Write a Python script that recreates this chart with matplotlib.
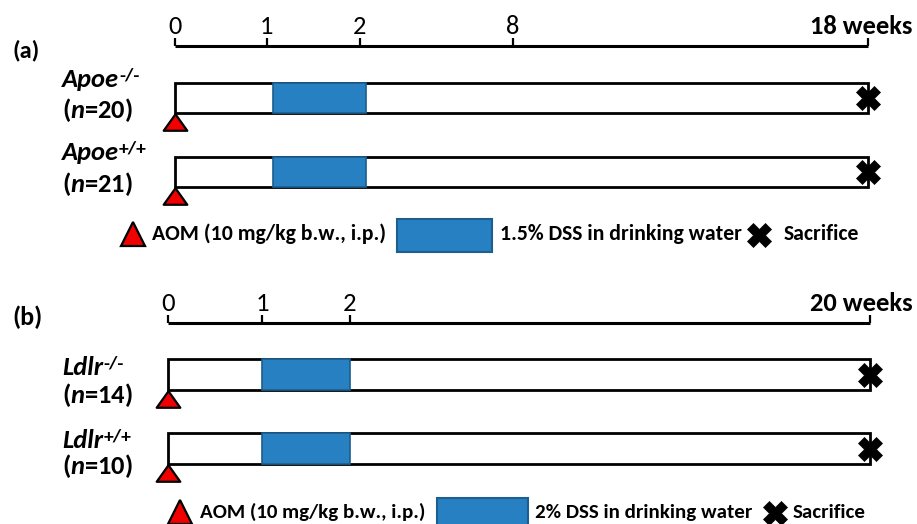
import numpy as np
import matplotlib
matplotlib.use("Agg")
import matplotlib.pyplot as plt
from matplotlib.transforms import Affine2D, ScaledTranslation
from matplotlib.patches import Rectangle
from matplotlib.lines import Line2D
from matplotlib.path import Path
from matplotlib.text import Annotation

# ---------------- data ----------------
# Panel (a): Apoe study, 18 weeks
a_tick_weeks = [0, 1, 2, 8, 18]
a_tick_labels = ["0", "1", "2", "8", "18 weeks"]
a_groups = ["Apoe", "Apoe"]
a_genotypes = ["-/-", "+/+"]
a_n = [20, 21]
a_aom_week = 0
a_dss_start = 1
a_dss_end = 2
a_end_week = 18
a_dss_label = "1.5% DSS in drinking water"

# Panel (b): Ldlr study, 20 weeks
b_tick_weeks = [0, 1, 2, 20]
b_tick_labels = ["0", "1", "2", "20 weeks"]
b_groups = ["Ldlr", "Ldlr"]
b_genotypes = ["-/-", "+/+"]
b_n = [14, 10]
b_aom_week = 0
b_dss_start = 1
b_dss_end = 2
b_end_week = 20
b_dss_label = "2% DSS in drinking water"

aom_label = "AOM (10 mg/kg b.w., i.p.)"
sac_label = "Sacrifice"

# schematic (broken) time scale: pixel position of each tick week
a_scale_px = [175, 267, 360, 513, 868]
b_scale_px = [168, 262, 350, 870]

# ---------------- style ----------------
W, H = 917, 524
FONT = "Carlito"
RED = "#f00000"
BLUE = "#2680c2"
BLUE_EDGE = "#1d5e8e"
plt.rcParams["font.family"] = [FONT, "DejaVu Sans"]
plt.rcParams["mathtext.fontset"] = "custom"
plt.rcParams["mathtext.it"] = "Carlito:italic:bold"
plt.rcParams["mathtext.rm"] = "Carlito:bold"
plt.rcParams["mathtext.bf"] = "Carlito:bold"

fig = plt.figure(figsize=(W / 100, H / 100), dpi=100)
pix = Affine2D().scale(1 / W, -1 / H).translate(0, 1) + fig.transFigure

tri_path = Path([(-1, -0.7), (1, -0.7), (0, 0.7), (-1, -0.7)],
                [Path.MOVETO, Path.LINETO, Path.LINETO, Path.CLOSEPOLY])

fit_groups = {}   # name -> (list of texts, reference text, target width px)


def add_fit(key, t, ref=False, target=None):
    lst, r, tw = fit_groups.get(key, ([], None, None))
    lst.append(t)
    if ref:
        r, tw = t, target
    fit_groups[key] = (lst, r, tw)


axes = []


def panel(tick_weeks, tick_labels, scale_px, groups, genotypes, ns,
          aom_w, dss_s, dss_e, end_w, axis_y, row_tops, row_h, dss_shift_px,
          panel_label, label_y, label_w, name_baselines, n_baselines,
          leg_y, leg_x, leg_box, leg_w, dss_label, tick_w, last_shift, key):
    x0, x1 = scale_px[0], scale_px[-1]
    ax = fig.add_axes([x0 / W, 0, (x1 - x0) / W, 1])
    ax.patch.set_visible(False)
    fwd = lambda w: np.interp(w, tick_weeks, scale_px)
    inv = lambda p: np.interp(p, scale_px, tick_weeks)
    ax.set_xscale("function", functions=(fwd, inv))
    ax.set_xlim(tick_weeks[0], tick_weeks[-1])
    ax.set_ylim(H, 0)

    for s in ["left", "right", "bottom"]:
        ax.spines[s].set_visible(False)
    ax.spines["top"].set_position(("data", axis_y))
    ax.spines["top"].set_linewidth(2.2)
    ax.spines["top"].set_capstyle("butt")
    ax.yaxis.set_visible(False)
    ax.xaxis.tick_top()
    ax.set_xticks(tick_weeks)
    ax.set_xticklabels(tick_labels)
    ax.xaxis.set_minor_locator(matplotlib.ticker.NullLocator())
    ax.tick_params(axis="x", which="major", direction="out", length=5.5,
                   width=1.6, pad=0.5, labelsize=18, colors="black")
    ax.get_xticklabels()[-1].set_fontweight("bold")
    axes.append((ax, tick_w, last_shift))

    shift = ScaledTranslation(dss_shift_px / 100, 0, fig.dpi_scale_trans)
    for i in range(len(groups)):
        yc = row_tops[i] + row_h / 2
        ax.barh(yc, end_w - aom_w, left=aom_w, height=row_h,
                facecolor="white", edgecolor="black", linewidth=2.0,
                clip_on=False, zorder=2)
        bars = ax.barh(yc, dss_e - dss_s, left=dss_s, height=row_h,
                       facecolor=BLUE, edgecolor=BLUE_EDGE, linewidth=1.2,
                       clip_on=False, zorder=3)
        for b in bars:
            b.set_transform(ax.transData + shift)
        ax.plot([aom_w], [row_tops[i] + row_h + 9], marker=tri_path,
                markersize=17, markerfacecolor=RED, markeredgecolor="black",
                markeredgewidth=1.6, linestyle="none", clip_on=False, zorder=5)
        ax.plot([end_w], [yc], marker="X", markersize=17, color="black",
                markeredgewidth=0.5, linestyle="none", clip_on=False, zorder=5)

        t = fig.text(62, name_baselines[i], groups[i], transform=pix,
                     fontsize=19, fontweight="bold", fontstyle="italic",
                     va="baseline", ha="left")
        add_fit("row", t)
        sup = Annotation(genotypes[i], xy=(1, 1), xycoords=t, xytext=(0, 0.5),
                         textcoords="offset points", va="top", ha="left",
                         fontsize=14, fontweight="bold")
        fig.add_artist(sup)
        tn = fig.text(62, n_baselines[i], "($n$=%d)" % ns[i], transform=pix,
                      fontsize=19, fontweight="bold", va="baseline", ha="left")
        add_fit("row", tn, ref=(key == "a" and i == 0), target=71)

    tp = fig.text(12, label_y, panel_label, transform=pix, fontsize=18,
                  fontweight="bold", va="center", ha="left")
    add_fit("panel_" + key, tp, ref=True, target=label_w)

    # legend row
    tx, bx, sx = leg_x
    fig.add_artist(Line2D([leg_box[4]], [leg_y - 6], transform=pix,
                          marker="^", markersize=17, markerfacecolor=RED,
                          markeredgecolor="black", markeredgewidth=1.6,
                          linestyle="none"))
    t1 = fig.text(tx, leg_y, aom_label, transform=pix, fontsize=16,
                  fontweight="bold", va="baseline", ha="left")
    fig.add_artist(Rectangle((leg_box[0], leg_box[1]), leg_box[2], leg_box[3],
                             transform=pix, facecolor=BLUE,
                             edgecolor=BLUE_EDGE, linewidth=1.5))
    t2 = fig.text(bx, leg_y, dss_label, transform=pix, fontsize=16,
                  fontweight="bold", va="baseline", ha="left")
    fig.add_artist(Line2D([leg_box[5]], [leg_y - 5], transform=pix,
                          marker="X", markersize=17, color="black",
                          markeredgewidth=0.5, linestyle="none"))
    t3 = fig.text(sx, leg_y, sac_label, transform=pix, fontsize=16,
                  fontweight="bold", va="baseline", ha="left")
    add_fit("leg_" + key, t1, ref=True, target=leg_w)
    add_fit("leg_" + key, t2)
    add_fit("leg_" + key, t3)
    return ax


panel(a_tick_weeks, a_tick_labels, a_scale_px, a_groups, a_genotypes, a_n,
      a_aom_week, a_dss_start, a_dss_end, a_end_week,
      axis_y=46, row_tops=[83, 157], row_h=30, dss_shift_px=6,
      panel_label="(a)", label_y=50, label_w=27, name_baselines=[87, 160],
      n_baselines=[118, 192], leg_y=240, leg_x=(152, 500, 784),
      leg_box=(397, 219, 95, 33, 133, 759), leg_w=235,
      dss_label=a_dss_label, tick_w=103, last_shift=-7, key="a")

panel(b_tick_weeks, b_tick_labels, b_scale_px, b_groups, b_genotypes, b_n,
      b_aom_week, b_dss_start, b_dss_end, b_end_week,
      axis_y=323, row_tops=[359, 433], row_h=31, dss_shift_px=0,
      panel_label="(b)", label_y=317, label_w=30, name_baselines=[375, 448],
      n_baselines=[403, 474], leg_y=518, leg_x=(200, 535, 793),
      leg_box=(437, 498, 91, 28, 180, 775), leg_w=227,
      dss_label=b_dss_label, tick_w=103, last_shift=-9, key="b")

# fit font sizes to the text widths measured on the reference
fig.canvas.draw()
r = fig.canvas.get_renderer()
for key, (lst, ref, tw) in fit_groups.items():
    if ref is None:
        continue
    scale = tw / ref.get_window_extent(r).width
    for t in lst:
        t.set_fontsize(t.get_fontsize() * scale)
for ax, tw, dx in axes:
    lab = ax.get_xticklabels()[-1]
    scale = tw / lab.get_window_extent(r).width
    ax.tick_params(axis="x", labelsize=lab.get_fontsize() * scale)
    last = ax.xaxis.get_major_ticks()[-1].label2
    last.set_fontweight("bold")
    last.set_transform(last.get_transform() +
                       ScaledTranslation(dx / 100, 0, fig.dpi_scale_trans))

fig.savefig("out.png", dpi=100)
